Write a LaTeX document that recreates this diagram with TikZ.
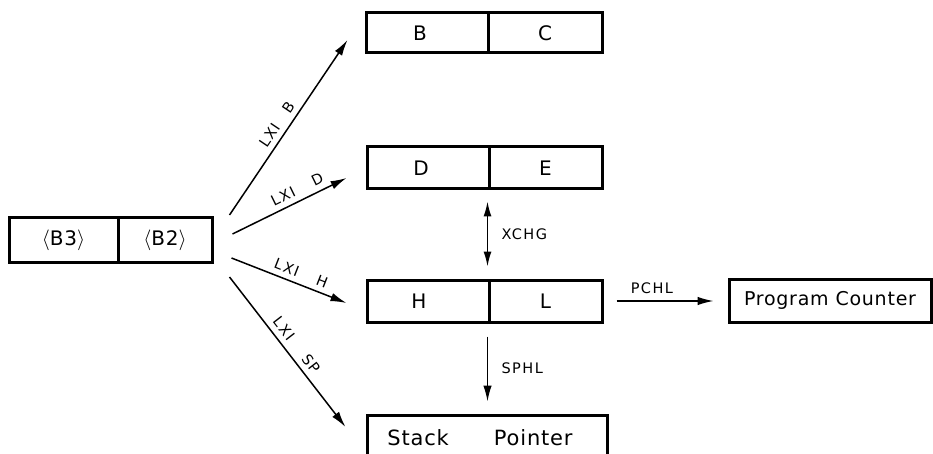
\documentclass[tikz,border=0pt]{standalone}
\usepackage{fontspec}
\setmainfont{DejaVu Sans}[LetterSpace=4]
\newfontfamily\labfont{DejaVu Sans}[LetterSpace=10]
\usetikzlibrary{arrows.meta,calc}
\begin{document}
\begin{tikzpicture}[x=1pt,y=-1pt,
  cell/.style={draw,line width=3pt,inner sep=0pt,font=\fontsize{20}{24}\selectfont},
  arr/.style={line width=1.5pt,-{Latex[length=16pt,width=8.5pt]}},
  dbl/.style={line width=1.5pt,{Latex[length=15pt,width=8pt]}-{Latex[length=15pt,width=8pt]}},
  lab/.style={font=\labfont\fontsize{14.5}{17}\selectfont}]
\useasboundingbox (0,0) rectangle (933,454);
\fill[white] (0,0) rectangle (933,454);
% source pair
\node[cell,minimum width=109pt,minimum height=44pt] (b3) at (63.5,240) {$\langle$B3$\rangle$};
\node[cell,minimum width=94pt,minimum height=44pt] (b2) at (165,240) {$\langle$B2$\rangle$};
% register pairs
\node[cell,minimum width=122pt,minimum height=40pt] (b) at (427,33) {\hspace{-14pt}B};
\node[cell,minimum width=114pt,minimum height=40pt] (c) at (545,33) {C\hspace{-18pt}};
\node[cell,minimum width=122pt,minimum height=42pt] (d) at (428,168) {\hspace{-14pt}D};
\node[cell,minimum width=113pt,minimum height=42pt] (e) at (545.5,168) {E\hspace{-14pt}};
\node[cell,minimum width=122pt,minimum height=42pt] (h) at (428,301) {\hspace{-18pt}H};
\node[cell,minimum width=113pt,minimum height=42pt] (l) at (545.5,301) {L\hspace{-14pt}};
\node[cell,minimum width=202pt,minimum height=43pt,font=\fontsize{19}{23}\selectfont] (pc) at (830,300.5) {Program Counter};
\node[cell,minimum width=240pt,minimum height=46pt,font=\fontsize{21}{25}\selectfont] (sp) at (487,438) {\hspace*{-14pt}Stack\hspace{45pt}Pointer};
% LXI arrows
\draw[arr] ($(b2.east)+(16,-25)$) -- node[lab,sloped,above=2pt,pos=0.48]{LXI\hspace{16pt}B} ($(b.west)+(-17,7)$);
\draw[arr] ($(b2.east)+(19,-6)$) -- node[lab,sloped,above=2pt,pos=0.61]{LXI\hspace{20pt}D} ($(d.west)+(-19,10)$);
\draw[arr] ($(b2.east)+(18,18)$) -- node[lab,sloped,above=2pt,pos=0.57]{LXI\hspace{20pt}H} ($(h.west)+(-19,2)$);
\draw[arr] ($(b2.east)+(16,37)$) -- node[lab,sloped,above=2pt,pos=0.5]{LXI\hspace{22pt}SP} ($(sp.west)+(-20,-11)$);
% XCHG
\draw[dbl,shorten <=11pt,shorten >=12pt] (e.south west) -- node[lab,right=10pt]{XCHG} (l.north west);
% SPHL
\draw[arr,shorten <=13pt,shorten >=12pt] (l.south west) -- node[lab,right=10pt]{SPHL} (l.south west |- sp.north);
% PCHL
\draw[arr,shorten <=13pt,shorten >=14pt] (l.east) -- node[lab,above=3pt,pos=0.39]{PCHL} (pc.west |- l.east);
\end{tikzpicture}
\end{document}
